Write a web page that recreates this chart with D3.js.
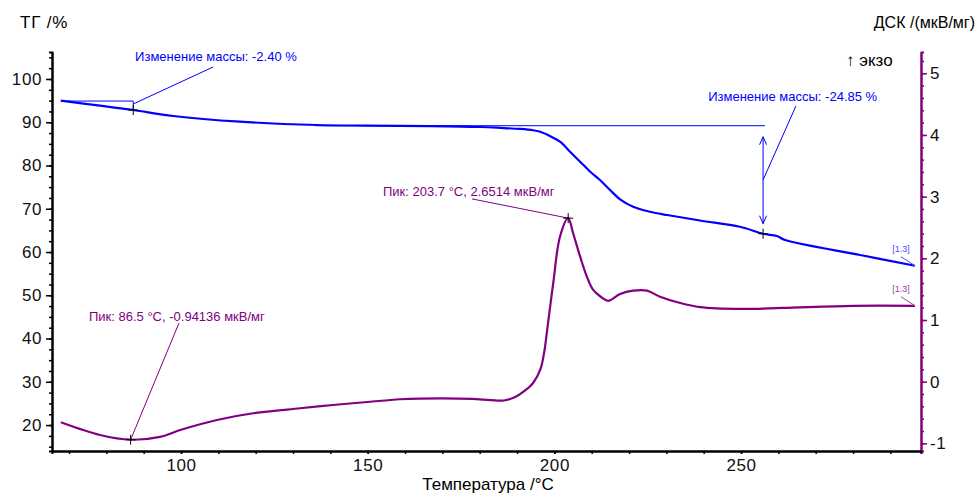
<!DOCTYPE html>
<html>
<head>
<meta charset="utf-8">
<script src="https://cdnjs.cloudflare.com/ajax/libs/d3/7.8.5/d3.min.js"></script>
<style>
    body { margin: 0; background: #fff; }
    svg { font-family: "Liberation Sans", Arial, sans-serif; }
</style>
</head>
<body>
<script>
// ТГ, % vs температура
const tgData = [
    [67.8, 94.98], [78.3, 93.83], [87.2, 92.83], [97.9, 91.45], [115.8, 90.13],
    [136.4, 89.36], [149.8, 89.22], [166.7, 89.1], [180.1, 88.9], [185.5, 88.7],
    [190.8, 88.45], [194.3, 88.15], [196.2, 87.8], [198.8, 86.82], [201.5, 85.50],
    [204.2, 83.19], [206.9, 80.88], [209.6, 78.57], [212.2, 76.65], [214.9, 74.34],
    [217.6, 72.19], [221.1, 70.47], [225.6, 69.32], [230.2, 68.55], [239.0, 67.28],
    [249.7, 65.85], [255.9, 64.23], [259.6, 63.70], [261.8, 62.77], [281.9, 59.31],
    [296.6, 56.83]
];

// ДСК, мкВ/мг vs температура
const dscData = [
    [67.8, -0.658], [78.3, -0.864], [86.5, -0.941], [94.4, -0.895], [100, -0.78],
    [109.6, -0.621], [119.3, -0.512], [131.9, -0.431], [140.7, -0.378], [150, -0.33],
    [158.7, -0.285], [170, -0.27], [178, -0.28], [183, -0.3], [186.5, -0.305],
    [189.5, -0.25], [192, -0.15], [194.3, -0.021], [196.2, 0.19], [197.2, 0.45],
    [198.2, 0.9], [199.7, 1.60], [201.5, 2.35], [203.7, 2.6514], [205.0, 2.41],
    [206.9, 2.027], [208.7, 1.703], [210.4, 1.487], [212.5, 1.373], [214.4, 1.309],
    [217.6, 1.422], [221.1, 1.476], [224.8, 1.476], [228.3, 1.378], [233.7, 1.276],
    [239, 1.21], [250, 1.18], [261, 1.195], [280, 1.23], [296.6, 1.23]
];

const tempTicks = [100, 150, 200, 250];
const tgTicks = [20, 30, 40, 50, 60, 70, 80, 90, 100];
const dscTicks = [-1, 0, 1, 2, 3, 4, 5];

const config = {
    width: 977,
    height: 493,
    left: 52,
    right: 921,
    top: 52,
    bottom: 451,
    blue: "#0000ff",
    purple: "#800080"
};

const x = d3.scaleLinear().domain([65.44, 298.2]).range([config.left, config.right]);
const yTg = d3.scaleLinear().domain([14, 106.24]).range([config.bottom, config.top]);
const yDsc = d3.scaleLinear().domain([-1.124, 5.345]).range([config.bottom, config.top]);

const svg = d3.select("body").append("svg")
    .attr("width", config.width)
    .attr("height", config.height);

drawAxes();
drawCurves();
drawAnnotations();

function styleAxis(g, color) {
    g.select(".domain").attr("stroke", color).attr("stroke-width", 2);
    g.selectAll(".tick line").attr("stroke", color).attr("stroke-width", 1.5);
    g.selectAll(".tick text")
        .attr("fill", "#111")
        .style("font-size", "17px")
        .style("letter-spacing", "0.6px");
}

function drawAxes() {
    // minor ticks first
    svg.append("g")
        .attr("transform", `translate(${config.left},0)`)
        .call(d3.axisLeft(yTg).tickValues(d3.range(15, 106, 2.5)).tickSize(3).tickFormat(""))
        .call(g => styleAxis(g, "#000"));

    svg.append("g")
        .attr("transform", `translate(${config.right},0)`)
        .call(d3.axisRight(yDsc).tickValues(d3.range(-1, 5.3, 0.2)).tickSize(3).tickFormat(""))
        .call(g => styleAxis(g, config.purple));

    svg.append("g")
        .attr("transform", `translate(0,${config.bottom})`)
        .call(d3.axisBottom(x).tickValues(d3.range(70, 300, 10)).tickSize(3).tickFormat(""))
        .call(g => styleAxis(g, "#000"));

    svg.append("g")
        .attr("transform", `translate(${config.left},0)`)
        .call(d3.axisLeft(yTg).tickValues(tgTicks).tickSize(6).tickSizeOuter(0).tickPadding(4))
        .call(g => styleAxis(g, "#000"));

    svg.append("g")
        .attr("transform", `translate(${config.right},0)`)
        .call(d3.axisRight(yDsc).tickValues(dscTicks).tickSize(6).tickSizeOuter(0).tickPadding(3)
            .tickFormat(d => String(d)))
        .call(g => styleAxis(g, config.purple));

    svg.append("g")
        .attr("transform", `translate(0,${config.bottom})`)
        .call(d3.axisBottom(x).tickValues(tempTicks).tickSize(3).tickSizeOuter(0).tickPadding(5))
        .call(g => styleAxis(g, "#000"));

    svg.append("text")
        .attr("x", 20).attr("y", 28)
        .style("font-size", "17px")
        .style("letter-spacing", "0.8px")
        .text("ТГ /%");

    svg.append("text")
        .attr("x", 975).attr("y", 28)
        .attr("text-anchor", "end")
        .style("font-size", "16px")
        .text("ДСК /(мкВ/мг)");

    svg.append("text")
        .attr("x", 846).attr("y", 66)
        .style("font-size", "17px")
        .text("↑ экзо");

    svg.append("text")
        .attr("x", 488).attr("y", 490)
        .attr("text-anchor", "middle")
        .style("font-size", "17px")
        .text("Температура /°C");
}

function drawCurves() {
    const tgLine = d3.line().x(d => x(d[0])).y(d => yTg(d[1])).curve(d3.curveCatmullRom.alpha(0.5));
    const dscLine = d3.line().x(d => x(d[0])).y(d => yDsc(d[1])).curve(d3.curveCatmullRom.alpha(0.5));

    svg.append("path")
        .datum(tgData)
        .attr("d", tgLine)
        .attr("fill", "none")
        .attr("stroke", config.blue)
        .attr("stroke-width", 2.2);

    svg.append("path")
        .datum(dscData)
        .attr("d", dscLine)
        .attr("fill", "none")
        .attr("stroke", config.purple)
        .attr("stroke-width", 2.2);

    // [1.3] end tags
    [[tgData, yTg, "#4a4aff"], [dscData, yDsc, "#a040a0"]].forEach(([data, y, color]) => {
        const end = data[data.length - 1];
        const ex = x(end[0]), ey = y(end[1]);
        svg.append("line")
            .attr("x1", ex - 14).attr("y1", ey - 9)
            .attr("x2", ex).attr("y2", ey)
            .attr("stroke", color).attr("stroke-width", 1);
        svg.append("text")
            .attr("x", ex - 14).attr("y", ey - 14)
            .attr("text-anchor", "middle")
            .attr("fill", color)
            .style("font-size", "9px")
            .text("[1.3]");
    });
}

function cross(px, py) {
    svg.append("path")
        .attr("d", `M${px - 5},${py}H${px + 5}M${px},${py - 5}V${py + 5}`)
        .attr("stroke", "#000")
        .attr("stroke-width", 1);
}

function label(px, py, color, txt) {
    svg.append("text")
        .attr("x", px).attr("y", py)
        .attr("fill", color)
        .style("font-size", "13px")
        .text(txt);
}

function drawAnnotations() {
    const thin = (g, color) => g.attr("fill", "none").attr("stroke", color).attr("stroke-width", 1);

    // mass change 1
    svg.append("path")
        .attr("d", `M${x(67.8)},${yTg(94.9)}H${x(87.2)}V${yTg(92.83)}`)
        .call(thin, config.blue);
    svg.append("line")
        .attr("x1", x(87.2)).attr("y1", yTg(94.22))
        .attr("x2", x(108.6)).attr("y2", yTg(102.77))
        .call(thin, config.blue);
    cross(x(87.2), yTg(92.83));
    label(x(87.7), yTg(104.2), config.blue, "Изменение массы: -2.40 %");

    // mass change 2
    svg.append("line")
        .attr("x1", x(136)).attr("y1", yTg(89.2))
        .attr("x2", x(256.4)).attr("y2", yTg(89.2))
        .call(thin, config.blue);
    const ax = x(255.9), aTop = yTg(89.2) + 11, aBot = yTg(64.23) - 10;
    svg.append("path")
        .attr("d", `M${ax},${aTop}V${aBot}M${ax - 3.5},${aTop + 8}L${ax},${aTop}L${ax + 3.5},${aTop + 8}M${ax - 3.5},${aBot - 8}L${ax},${aBot}L${ax + 3.5},${aBot - 8}`)
        .call(thin, config.blue);
    svg.append("line")
        .attr("x1", ax).attr("y1", yTg(76.65))
        .attr("x2", x(264.7)).attr("y2", yTg(93.76))
        .call(thin, config.blue);
    cross(ax, yTg(64.23));
    label(x(241.2), yTg(94.91), config.blue, "Изменение массы: -24.85 %");

    // DSC peaks
    svg.append("line")
        .attr("x1", x(177.95)).attr("y1", yDsc(2.963))
        .attr("x2", x(203.7)).attr("y2", yDsc(2.6514))
        .call(thin, config.purple);
    cross(x(203.7), yDsc(2.6514));
    label(x(154.1), yDsc(3.011), config.purple, "Пик: 203.7 °C, 2.6514 мкВ/мг");

    svg.append("line")
        .attr("x1", x(99.46)).attr("y1", yDsc(0.952))
        .attr("x2", x(86.5)).attr("y2", yDsc(-0.94136))
        .call(thin, config.purple);
    cross(x(86.5), yDsc(-0.94136));
    label(x(75.35), yDsc(0.984), config.purple, "Пик: 86.5 °C, -0.94136 мкВ/мг");
}
</script>
</body>
</html>
